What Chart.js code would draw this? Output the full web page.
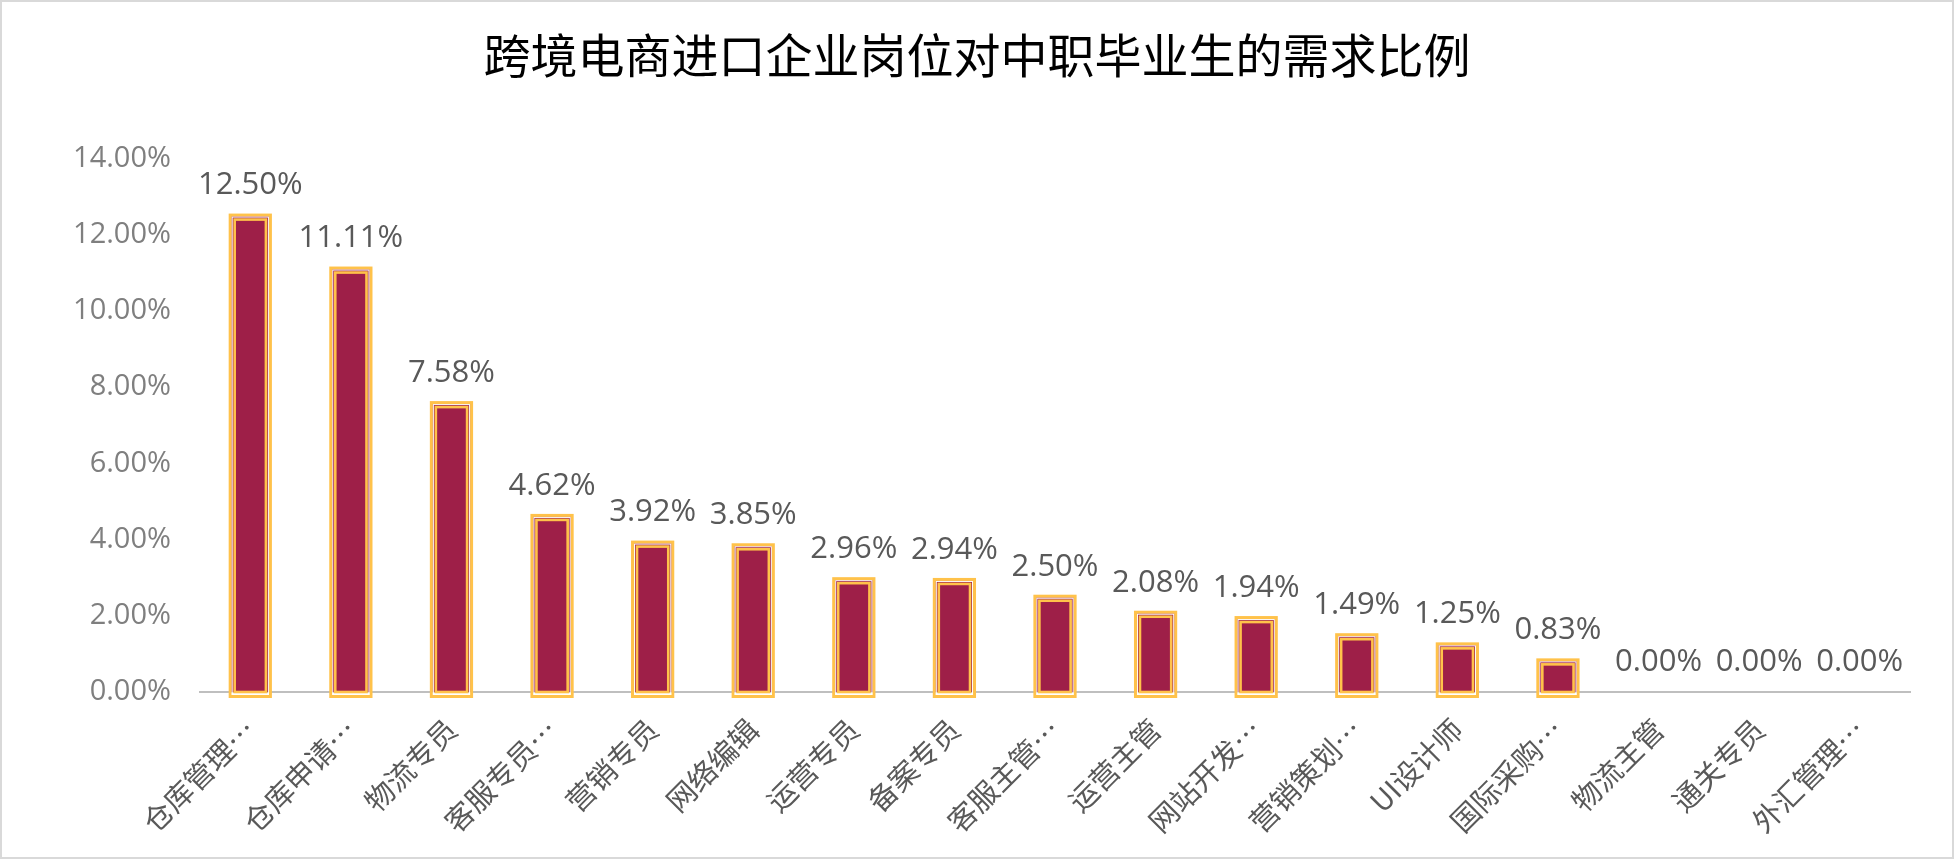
<!DOCTYPE html>
<html>
<head>
<meta charset="utf-8">
<script src="https://cdn.jsdelivr.net/npm/chart.js@4.4.1/dist/chart.umd.min.js"></script>
<style>
  html, body { margin: 0; padding: 0; background: #fff; overflow: hidden; }
</style>
</head>
<body>
<canvas id="chart" width="1954" height="859"></canvas>
<script>
// 跨境电商进口企业岗位对中职毕业生的需求比例

const titleText = '跨境电商进口企业岗位对中职毕业生的需求比例';

const categories = [
    '仓库管理…', '仓库申请…', '物流专员', '客服专员…', '营销专员', '网络编辑',
    '运营专员', '备案专员', '客服主管…', '运营主管', '网站开发…', '营销策划…',
    'UI设计师', '国际采购…', '物流主管', '通关专员', '外汇管理…'
];

// percent values
const shares = [12.50, 11.11, 7.58, 4.62, 3.92, 3.85, 2.96, 2.94, 2.50, 2.08, 1.94, 1.49, 1.25, 0.83, 0.00, 0.00, 0.00];

const yMax = 14;
const yStep = 2;

const GOLD = '#FFC24A';
const CRIMSON = '#9E1F48';

// outer gray frame of the picture
const framePlugin = {
    id: 'frame',
    beforeDraw(chart) {
        const ctx = chart.ctx;
        ctx.save();
        ctx.fillStyle = '#fff';
        ctx.fillRect(0, 0, chart.width, chart.height);
        ctx.strokeStyle = '#d9d9d9';
        ctx.lineWidth = 2;
        ctx.strokeRect(1, 1, chart.width - 2, chart.height - 2);
        ctx.restore();
    }
};

// nested borders on each bar + value labels
const barDecor = {
    id: 'barDecor',
    afterDatasetsDraw(chart) {
        const ctx = chart.ctx;
        const meta = chart.getDatasetMeta(0);
        ctx.save();
        meta.data.forEach((bar, i) => {
            const v = shares[i];
            const half = bar.width / 2;
            if (v > 0) {
                const left = bar.x - half, top = bar.y, h = bar.base - bar.y;
                const ring = (inset, lw, color) => {
                    ctx.strokeStyle = color;
                    ctx.lineWidth = lw;
                    ctx.strokeRect(left + inset, top + inset, bar.width - 2 * inset, h - 2 * inset + 4);
                };
                ring(-0.5, 3, GOLD);
                ring(1.5, 1, '#fff');
                ring(4, 2.6, GOLD);
            }
            ctx.fillStyle = '#595959';
            ctx.font = '31px "Open Sans", sans-serif';
            ctx.textAlign = 'center';
            ctx.textBaseline = 'middle';
            ctx.fillText(v.toFixed(2) + '%', bar.x, bar.y - 30);
        });
        ctx.restore();
    }
};

new Chart(document.getElementById('chart').getContext('2d'), {
    type: 'bar',
    data: {
        labels: categories,
        datasets: [{
            data: shares,
            backgroundColor: CRIMSON,
            borderWidth: 0,
            categoryPercentage: 1,
            barPercentage: 0.39
        }]
    },
    options: {
        responsive: false,
        devicePixelRatio: 1,
        animation: false,
        layout: { padding: { left: 44, right: 44, top: 0, bottom: 0 } },
        plugins: {
            legend: { display: false },
            tooltip: { enabled: false },
            title: {
                display: true,
                text: titleText,
                color: '#000',
                font: { family: '"Noto Sans CJK SC", sans-serif', size: 47, weight: 'normal' },
                padding: { top: 27, bottom: 75 }
            }
        },
        scales: {
            x: {
                z: 1,
                grid: { display: false },
                border: { color: '#bfbfbf', width: 2 },
                ticks: {
                    autoSkip: false,
                    minRotation: 45,
                    maxRotation: 45,
                    padding: 12,
                    color: '#595959',
                    font: { family: '"Noto Sans CJK SC", sans-serif', size: 29 }
                },
                afterFit(scale) { scale.height = 167; }
            },
            y: {
                min: 0,
                max: yMax,
                grid: { display: false },
                border: { display: false },
                ticks: {
                    stepSize: yStep,
                    padding: 21,
                    color: '#7f7f7f',
                    font: { family: '"Open Sans", sans-serif', size: 29 },
                    callback: v => v.toFixed(2) + '%'
                },
                afterFit(scale) { scale.width = 156; }
            }
        }
    },
    plugins: [framePlugin, barDecor]
});
</script>
</body>
</html>
